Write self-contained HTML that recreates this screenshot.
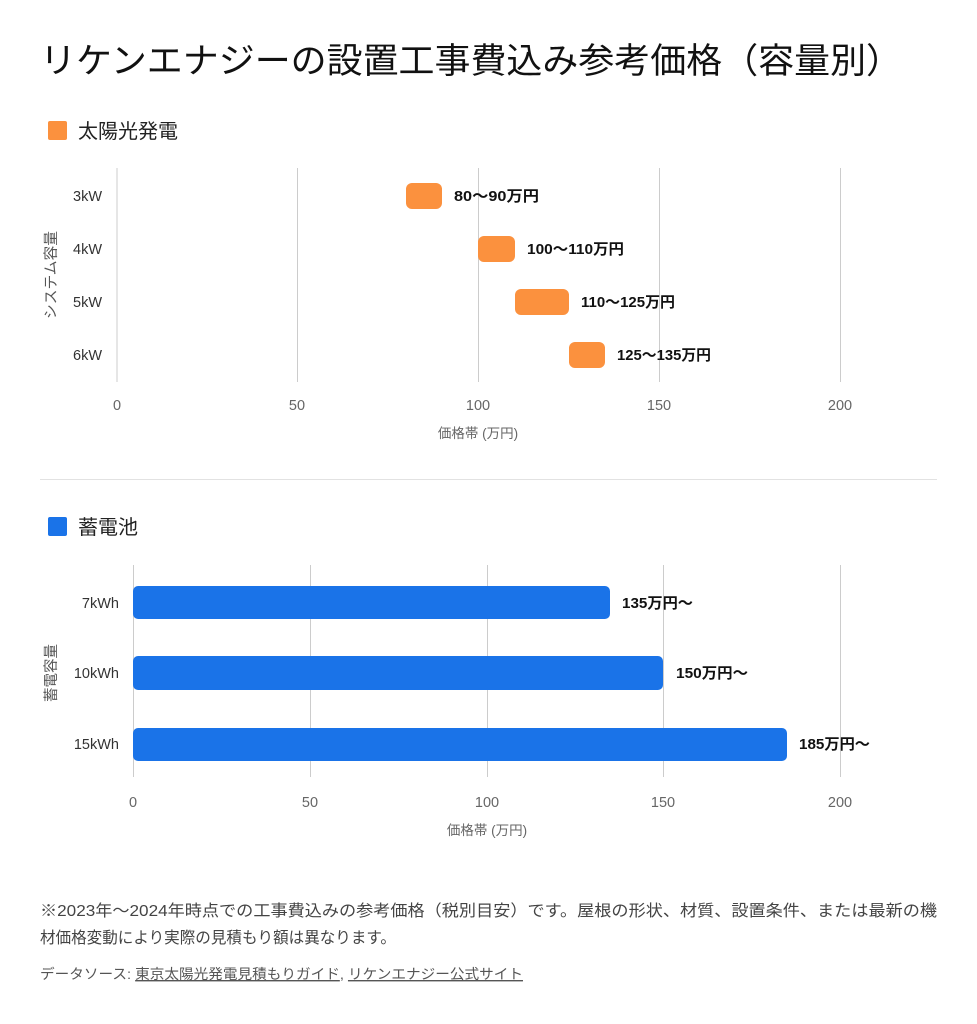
<!DOCTYPE html>
<html><head><meta charset="utf-8"><style>
body{margin:0;background:#fff;}
svg{display:block;font-family:"Liberation Sans","Noto Sans CJK JP",sans-serif;}
</style></head><body>
<svg width="977" height="1024" viewBox="0 0 977 1024">
<text x="40" y="73" font-size="35" fill="#111" textLength="862" lengthAdjust="spacingAndGlyphs">リケンエナジーの設置工事費込み参考価格（容量別）</text>
<rect x="48" y="121" width="19" height="19" rx="2" fill="#FB913E"/>
<text x="78" y="138" font-size="20" fill="#222">太陽光発電</text>
<g stroke="#ccc" stroke-width="1">
<line x1="117" y1="168" x2="117" y2="382"/><line x1="297.5" y1="168" x2="297.5" y2="382"/><line x1="478.5" y1="168" x2="478.5" y2="382"/><line x1="659.5" y1="168" x2="659.5" y2="382"/><line x1="840.5" y1="168" x2="840.5" y2="382"/>
</g>
<g font-size="14.5" fill="#333" text-anchor="end">
<text x="102" y="201">3kW</text><text x="102" y="254">4kW</text><text x="102" y="307">5kW</text><text x="102" y="360">6kW</text></g>
<text transform="translate(56,275) rotate(-90)" font-size="14.5" fill="#555" text-anchor="middle" textLength="88" lengthAdjust="spacingAndGlyphs">システム容量</text>
<g fill="#FB913E">
<rect x="406" y="183" width="36" height="26" rx="6"/>
<rect x="478" y="236" width="37" height="26" rx="6"/>
<rect x="515" y="289" width="54" height="26" rx="6"/>
<rect x="569" y="342" width="36" height="26" rx="6"/></g>
<g font-size="15" font-weight="bold" fill="#111">
<text x="454" y="201" textLength="85" lengthAdjust="spacingAndGlyphs">80～90万円</text><text x="527" y="254" textLength="97" lengthAdjust="spacingAndGlyphs">100～110万円</text><text x="581" y="307" textLength="94" lengthAdjust="spacingAndGlyphs">110～125万円</text><text x="617" y="360" textLength="94" lengthAdjust="spacingAndGlyphs">125～135万円</text></g>
<g font-size="14.5" fill="#666" text-anchor="middle">
<text x="117" y="410">0</text><text x="297" y="410">50</text><text x="478" y="410">100</text><text x="659" y="410">150</text><text x="840" y="410">200</text>
<text x="478" y="438" font-size="13.5">価格帯 (万円)</text></g>
<line x1="40" y1="479.5" x2="937" y2="479.5" stroke="#e2e2e2"/>
<rect x="48" y="517" width="19" height="19" rx="2" fill="#1A73E8"/>
<text x="78" y="534" font-size="20" fill="#222">蓄電池</text>
<g stroke="#ccc" stroke-width="1">
<line x1="133.5" y1="565" x2="133.5" y2="777"/><line x1="310.5" y1="565" x2="310.5" y2="777"/><line x1="487.5" y1="565" x2="487.5" y2="777"/><line x1="663.5" y1="565" x2="663.5" y2="777"/><line x1="840.5" y1="565" x2="840.5" y2="777"/>
</g>
<g font-size="14.5" fill="#333" text-anchor="end">
<text x="119" y="608">7kWh</text><text x="119" y="678">10kWh</text><text x="119" y="749">15kWh</text></g>
<text transform="translate(56,673) rotate(-90)" font-size="14.5" fill="#555" text-anchor="middle">蓄電容量</text>
<g fill="#1A73E8">
<rect x="133" y="586" width="477" height="33" rx="5"/>
<rect x="133" y="656" width="530" height="34" rx="5"/>
<rect x="133" y="728" width="654" height="33" rx="5"/></g>
<g font-size="15" font-weight="bold" fill="#111">
<text x="622" y="608" textLength="71" lengthAdjust="spacingAndGlyphs">135万円～</text><text x="676" y="678" textLength="72" lengthAdjust="spacingAndGlyphs">150万円～</text><text x="799" y="749" textLength="71" lengthAdjust="spacingAndGlyphs">185万円～</text></g>
<g font-size="14.5" fill="#666" text-anchor="middle">
<text x="133" y="807">0</text><text x="310" y="807">50</text><text x="487" y="807">100</text><text x="663" y="807">150</text><text x="840" y="807">200</text>
<text x="487" y="835" font-size="13.5">価格帯 (万円)</text></g>
<text x="40" y="916" font-size="16" fill="#444" textLength="897" lengthAdjust="spacingAndGlyphs">※2023年～2024年時点での工事費込みの参考価格（税別目安）です。屋根の形状、材質、設置条件、または最新の機</text>
<text x="40" y="943" font-size="16" fill="#444" textLength="356" lengthAdjust="spacingAndGlyphs">材価格変動により実際の見積もり額は異なります。</text>
<text x="40" y="979" font-size="14" fill="#555" textLength="483" lengthAdjust="spacingAndGlyphs">データソース: <tspan text-decoration="underline">東京太陽光発電見積もりガイド</tspan>, <tspan text-decoration="underline">リケンエナジー公式サイト</tspan></text>
</svg>
</body></html>
